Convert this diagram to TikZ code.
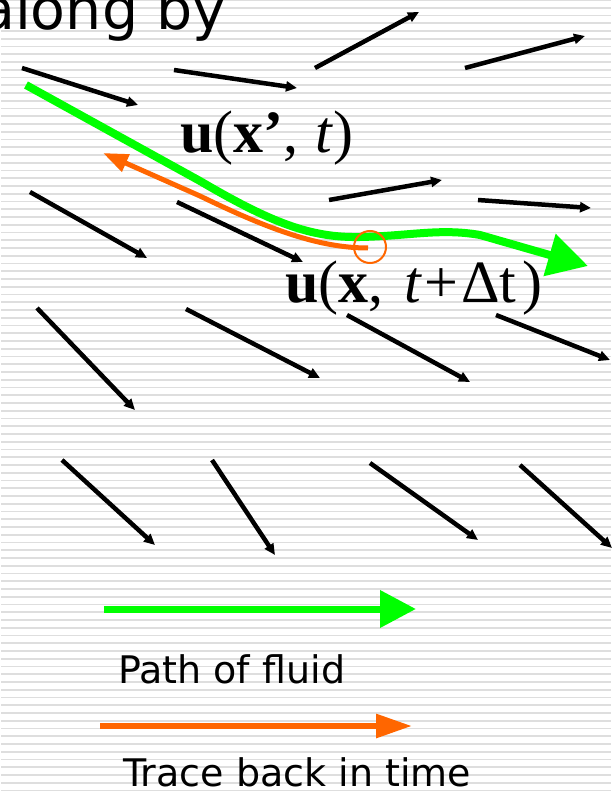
\documentclass[tikz,border=0pt]{standalone}
\usepackage{fontspec}
\setmainfont{Liberation Serif}
\newfontfamily\slidesans{DejaVu Sans}
\usetikzlibrary{arrows.meta}
\definecolor{flowgreen}{RGB}{0, 255, 0}
\definecolor{traceorange}{RGB}{255, 102, 0}
\definecolor{stripegray}{RGB}{222, 222, 222}

\begin{document}
\begin{tikzpicture}[x=1pt, y=-1pt,
  vec/.style={line width=4.5pt, -{Triangle[length=11pt,width=10pt]}},
  flowpath/.style={flowgreen, line width=8pt, -{Triangle[length=40pt,width=42pt]}},
  tracepath/.style={traceorange, line width=5pt, -{Triangle[length=25pt,width=18pt]}},
  mathlabel/.style={font=\fontsize{60}{64}\selectfont, inner sep=0pt, anchor=base west},
  legendlabel/.style={font=\slidesans\fontsize{38}{42}\selectfont, inner sep=0pt, anchor=base west}]
\useasboundingbox (0,0) rectangle (612,791);
\clip (0,0) rectangle (612,791);
% striped background
\draw[stripegray, line width=1.7pt, xstep=1000pt, ystep=7.75pt] (1,-4) grid (611,795);
% title text, cut at the top
\node[font=\slidesans\fontsize{57}{62}\selectfont, inner sep=0pt, anchor=base west] (title) at (-20,30) {along by};
% velocity field, row 1
\draw[vec] (22,68) -- (138,105);
\draw[vec] (174,70) -- (297,88);
\draw[vec] (315,68) -- (419,12);
\draw[vec] (465,68) -- (585,36);
% row 2
\draw[vec] (30,192) -- (147,258);
\draw[vec] (177,202) -- (303,262);
\draw[vec] (329,200) -- (442,180);
\draw[vec] (478,200) -- (591,208);
% row 3
\draw[vec] (37,308) -- (135,410);
\draw[vec] (186,309) -- (320,378);
\draw[vec] (347,315) -- (470,382);
\draw[vec] (496,315) -- (610,360);
% row 4
\draw[vec] (62,460) -- (155,545);
\draw[vec] (212,460) -- (275,555);
\draw[vec] (370,463) -- (478,540);
\draw[vec] (520,465) -- (612,548);
% path of the fluid particle
\draw[flowpath] (26,85) -- (200,181) .. controls (270,222) and (310,238) .. (360,237)
  .. controls (410,236) and (440,228) .. (480,235) -- (588,266);
% trace back from x
\draw[tracepath] (368,248) .. controls (320,248) and (270,230) .. (200,196) -- (103,153);
\draw[traceorange, line width=2pt] (370,247) circle[radius=16pt];
% labels
\node[mathlabel] (uold) at (180,153) {\textbf{u}(\textbf{x’}, \kern2pt\textit{t})};
\node[mathlabel] (unew) at (285,302) {\textbf{u}(\textbf{x}, \kern6pt\textit{t}\kern2pt+\kern3ptΔt\kern6pt)};
% legend
\draw[flowgreen, line width=7pt, -{Triangle[length=36pt,width=36pt]}] (104,609) -- (416,609);
\node[legendlabel] (pathtext) at (118,683) {Path of fluid};
\draw[traceorange, line width=6pt, -{Triangle[length=36pt,width=23pt]}] (100,726) -- (412,726);
\node[legendlabel] (tracetext) at (123,786) {Trace back in time};
\end{tikzpicture}
\end{document}
